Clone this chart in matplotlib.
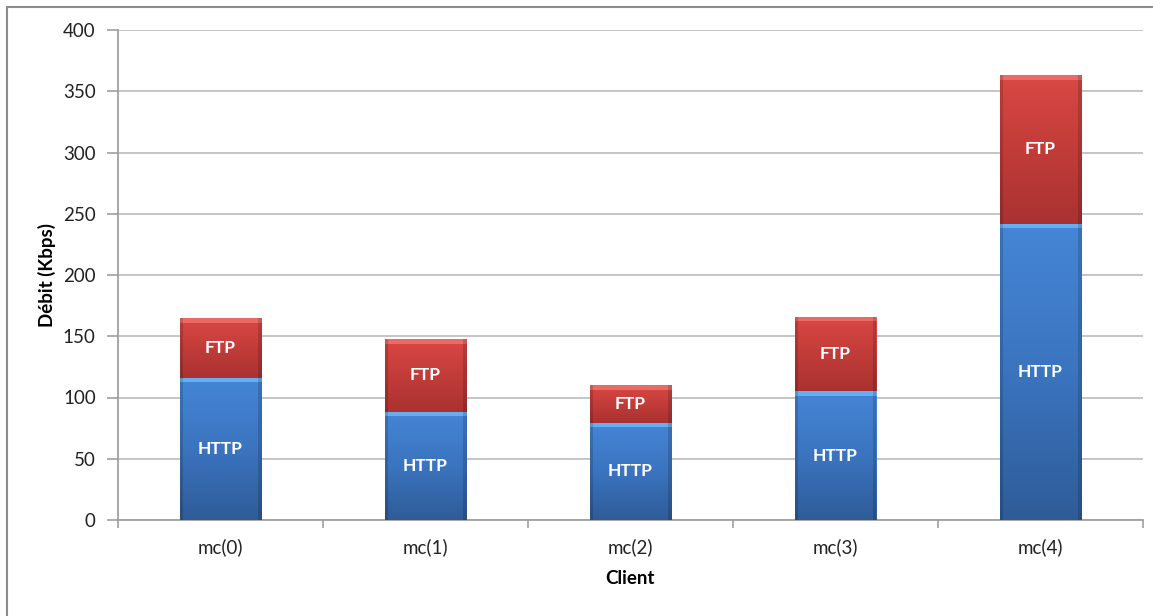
import matplotlib
matplotlib.use("Agg")
import matplotlib.pyplot as plt
import numpy as np
from matplotlib.colors import LinearSegmentedColormap
from matplotlib.patches import Rectangle

clients = ["mc(0)", "mc(1)", "mc(2)", "mc(3)", "mc(4)"]
http = [116, 88.5, 79.5, 105, 242]
ftp = [48.5, 59, 30.5, 61, 121]
yticks = [0, 50, 100, 150, 200, 250, 300, 350, 400]

plt.rcParams['font.family'] = ['Lato', 'DejaVu Sans']

fig = plt.figure(figsize=(11.53, 6.16), dpi=100)
ax = fig.add_axes([118/1153, 1-520/616, (1143-118)/1153, (520-30)/616])

# outer chart frame
fig.patches.append(Rectangle((7/1153, -0.05), 1.1, 1-7/616+0.05, transform=fig.transFigure,
                             fill=False, edgecolor="#8c8c8c", linewidth=1.5))

x = np.arange(len(clients))
w = 0.4
b1 = ax.bar(x, http, w, color="#3a76c4", zorder=3)
b2 = ax.bar(x, ftp, w, bottom=http, color="#c43d3a", zorder=3)

cm_blue = LinearSegmentedColormap.from_list("b", ["#2e5c98", "#3b74bf", "#4586d6"])
cm_red = LinearSegmentedColormap.from_list("r", ["#a93230", "#c23c39", "#d94844"])
grad = np.linspace(0, 1, 256).reshape(-1, 1)
for bars, cm, hl in ((b1, cm_blue, "#66aef0"), (b2, cm_red, "#ec6a66")):
    for p in bars:
        x0, y0, ww, hh = p.get_x(), p.get_y(), p.get_width(), p.get_height()
        im = ax.imshow(grad, extent=(x0, x0 + ww, y0, y0 + hh), origin="lower",
                       cmap=cm, aspect="auto", zorder=4)
        im.set_clip_path(p)
        # top highlight strip
        ax.add_patch(Rectangle((x0, y0 + hh - 3.5), ww, 3.5, facecolor=hl,
                               edgecolor="none", zorder=5))
        # side shading
        ax.add_patch(Rectangle((x0, y0), ww * 0.04, hh, facecolor="black",
                               alpha=0.15, edgecolor="none", zorder=5))
        ax.add_patch(Rectangle((x0 + ww * 0.96, y0), ww * 0.04, hh, facecolor="black",
                               alpha=0.15, edgecolor="none", zorder=5))

for i in range(len(clients)):
    ax.text(x[i], http[i] / 2, "HTTP", ha="center", va="center", color="white",
            fontsize=12.5, fontweight="bold", zorder=6)
    ax.text(x[i], http[i] + ftp[i] / 2, "FTP", ha="center", va="center", color="white",
            fontsize=12.5, fontweight="bold", zorder=6)

ax.set_xlim(-0.5, len(clients) - 0.5)
ax.set_ylim(0, 400)
ax.set_yticks(yticks)
ax.set_xticks(x)
ax.set_xticklabels(clients)
ax.set_xticks(np.arange(-0.5, len(clients), 1), minor=True)
ax.tick_params(axis="x", which="major", length=0, pad=13, labelsize=13.5, labelcolor="#222222")
ax.tick_params(axis="x", which="minor", length=6, color="#a0a0a0", width=1.2)
ax.tick_params(axis="y", length=8, color="#a0a0a0", width=1.2, labelsize=13.5,
               labelcolor="#222222", pad=8)

ax.grid(axis="y", color="#c0c0c0", linewidth=1.3, zorder=0)
for s in ("top", "right"):
    ax.spines[s].set_visible(False)
for s in ("left", "bottom"):
    ax.spines[s].set_color("#a0a0a0")
    ax.spines[s].set_linewidth(1.3)
ax.set_axisbelow(True)

ax.set_ylabel("Débit (Kbps)", fontsize=13.5, fontweight="bold", labelpad=5)
ax.set_xlabel("Client", fontsize=13.5, fontweight="bold", labelpad=10)

fig.savefig("out.png", dpi=100)
